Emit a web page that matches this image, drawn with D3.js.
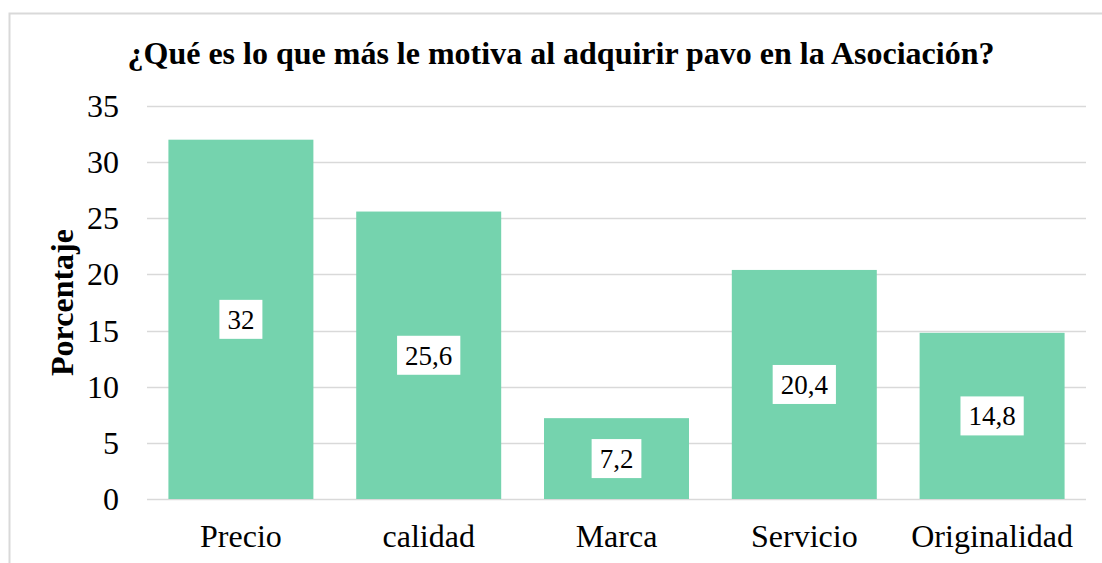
<!DOCTYPE html>
<html>
<head>
<meta charset="utf-8">
<script src="https://cdn.jsdelivr.net/npm/d3@7"></script>
<style>
  html, body { margin: 0; padding: 0; background: #fff; }
  svg { display: block; font-family: "Liberation Serif", "Times New Roman", serif; }
</style>
</head>
<body>
<div id="viz-container"></div>
<script>
'use strict';

// Chart data.
const categories = ['Precio', 'calidad', 'Marca', 'Servicio', 'Originalidad'];
const values = [32, 25.6, 7.2, 20.4, 14.8];
const yTicks = [0, 5, 10, 15, 20, 25, 30, 35];
const chartTitle = '¿Qué es lo que más le motiva al adquirir pavo en la Asociación?';
const yTitle = 'Porcentaje';

const width = 1102, height = 563;
const margin = { top: 106, right: 16, bottom: 64, left: 147 };

const svg = d3.select('#viz-container')
    .append('svg')
    .attr('width', width)
    .attr('height', height);

// Outer chart frame.
svg.append('rect')
    .attr('x', 9.5).attr('y', 13.5)
    .attr('width', width + 10).attr('height', height + 10)
    .attr('fill', 'none')
    .attr('stroke', '#d9d9d9')
    .attr('stroke-width', 2);

const x = d3.scaleBand()
    .domain(categories)
    .range([margin.left, width - margin.right])
    .paddingInner(0.228)
    .paddingOuter(0.114);

const y = d3.scaleLinear()
    .domain([0, 35])
    .range([height - margin.bottom, margin.top]);

// Gridlines.
svg.append('g')
    .selectAll('line')
    .data(yTicks)
    .enter()
    .append('line')
    .attr('x1', margin.left)
    .attr('x2', width - margin.right)
    .attr('y1', d => Math.round(y(d)) + 0.5)
    .attr('y2', d => Math.round(y(d)) + 0.5)
    .attr('stroke', '#d9d9d9')
    .attr('stroke-width', 1.5);

// Y axis labels.
const yAxis = svg.append('g')
    .attr('transform', 'translate(' + (margin.left - 28) + ',0)')
    .call(d3.axisLeft(y).tickValues(yTicks).tickSize(0).tickPadding(0));
yAxis.select('.domain').remove();
yAxis.selectAll('text')
    .attr('font-family', '"Liberation Serif", "Times New Roman", serif')
    .attr('font-size', 32)
    .attr('fill', '#000')
    .attr('dy', '0.33em');

// Bars.
svg.append('g')
    .selectAll('rect')
    .data(values)
    .enter()
    .append('rect')
    .attr('x', (d, i) => x(categories[i]))
    .attr('y', d => y(d))
    .attr('width', x.bandwidth())
    .attr('height', d => y(0) - y(d))
    .attr('fill', '#75d3ae');

// Data labels with white boxes.
const labels = svg.append('g')
    .selectAll('g')
    .data(values)
    .enter()
    .append('g')
    .attr('transform', (d, i) =>
        'translate(' + (x(categories[i]) + x.bandwidth() / 2) + ',' + ((y(d) + y(0)) / 2) + ')');

labels.append('text')
    .attr('text-anchor', 'middle')
    .attr('dy', '0.35em')
    .attr('font-family', '"Liberation Serif", "Times New Roman", serif')
    .attr('font-size', 27)
    .attr('fill', '#000')
    .text(d => String(d).replace('.', ','));

labels.each(function() {
    const g = d3.select(this);
    const w = g.select('text').node().getComputedTextLength();
    g.insert('rect', 'text')
        .attr('x', -w / 2 - 8)
        .attr('y', -19.5)
        .attr('width', w + 16)
        .attr('height', 39)
        .attr('fill', '#fff');
});

// X axis labels.
const xAxis = svg.append('g')
    .attr('transform', 'translate(0,' + y(0) + ')')
    .call(d3.axisBottom(x).tickSize(0).tickPadding(0));
xAxis.select('.domain').remove();
xAxis.selectAll('text')
    .attr('font-family', '"Liberation Serif", "Times New Roman", serif')
    .attr('font-size', 32)
    .attr('fill', '#000')
    .attr('dy', null)
    .attr('y', 48);

// Title.
svg.append('text')
    .attr('x', 561)
    .attr('y', 64)
    .attr('text-anchor', 'middle')
    .attr('font-family', '"Liberation Serif", "Times New Roman", serif')
    .attr('font-size', 32)
    .attr('font-weight', 'bold')
    .text(chartTitle);

// Y axis title.
svg.append('text')
    .attr('transform', 'translate(73,' + ((y(0) + y(35)) / 2) + ') rotate(-90)')
    .attr('text-anchor', 'middle')
    .attr('font-family', '"Liberation Serif", "Times New Roman", serif')
    .attr('font-size', 32)
    .attr('font-weight', 'bold')
    .text(yTitle);
</script>
</body>
</html>
